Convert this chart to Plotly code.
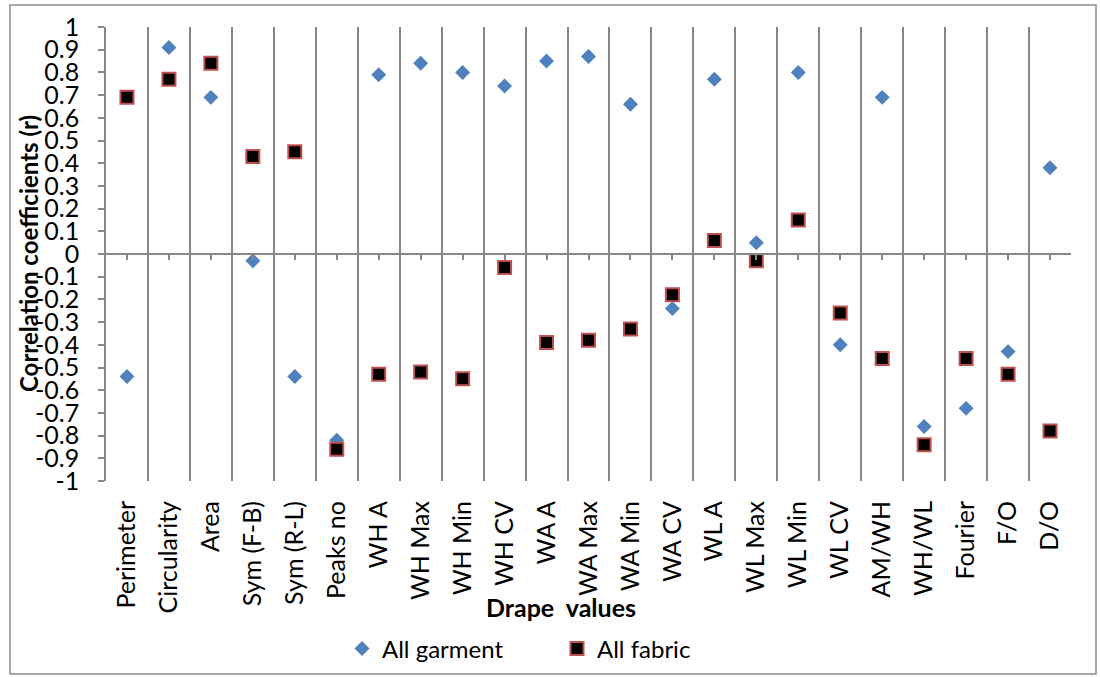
import plotly.graph_objects as go

categories = ["Perimeter", "Circularity", "Area", "Sym (F-B)", "Sym (R-L)", "Peaks no",
              "WH A", "WH Max", "WH Min", "WH CV", "WA A", "WA Max", "WA Min", "WA CV",
              "WL A", "WL Max", "WL Min", "WL CV", "AM/WH", "WH/WL", "Fourier", "F/O", "D/O"]

all_garment = [-0.54, 0.91, 0.69, -0.03, -0.54, -0.82, 0.79, 0.84, 0.80, 0.74, 0.85, 0.87,
               0.66, -0.24, 0.77, 0.05, 0.80, -0.40, 0.69, -0.76, -0.68, -0.43, 0.38]

all_fabric = [0.69, 0.77, 0.84, 0.43, 0.45, -0.86, -0.53, -0.52, -0.55, -0.06, -0.39, -0.38,
              -0.33, -0.18, 0.06, -0.03, 0.15, -0.26, -0.46, -0.84, -0.46, -0.53, -0.78]

y_tick_vals = [1, 0.9, 0.8, 0.7, 0.6, 0.5, 0.4, 0.3, 0.2, 0.1, 0, -0.1, -0.2, -0.3, -0.4,
               -0.5, -0.6, -0.7, -0.8, -0.9, -1]
y_tick_text = ["1", "0.9", "0.8", "0.7", "0.6", "0.5", "0.4", "0.3", "0.2", "0.1", "0",
               "-0.1", "-0.2", "-0.3", "-0.4", "-0.5", "-0.6", "-0.7", "-0.8", "-0.9", "-1"]

FONT = "Lato"
GRID = "#878787"

fig = go.Figure()
fig.add_trace(go.Scatter(
    x=categories, y=all_garment, mode="markers", name="All garment",
    marker=dict(symbol="diamond", size=11.5, color="#4F81BD", line=dict(width=0)),
))
fig.add_trace(go.Scatter(
    x=categories, y=all_fabric, mode="markers", name="All fabric",
    marker=dict(symbol="square", size=13, color="#000000", line=dict(width=2, color="#C0504D")),
))

L, R, T, B = 106, 29, 27, 196
W, H = 1100, 677
pw, ph = W - L - R, H - T - B

def px_x(p):
    return (p - L) / pw

def px_y(p):
    return (H - B - p) / ph

fig.update_layout(
    width=W, height=H,
    margin=dict(l=L, r=R, t=T, b=B, autoexpand=False),
    paper_bgcolor="white", plot_bgcolor="white",
    font=dict(family=FONT, size=25, color="#000000"),
    showlegend=True,
    legend=dict(orientation="h", x=px_x(342), xanchor="left", y=px_y(649), yanchor="middle",
                font=dict(family=FONT, size=24), entrywidth=170, entrywidthmode="pixels",
                bgcolor="rgba(0,0,0,0)"),
    xaxis=dict(
        type="category", categoryorder="array", categoryarray=categories,
        range=[-0.5, len(categories) - 0.5],
        tickson="boundaries", showgrid=True, gridcolor=GRID, gridwidth=1.5,
        ticks="", showline=False, zeroline=False, tickangle=-90,
        tickfont=dict(family=FONT, size=25), ticklabelstandoff=14,
    ),
    xaxis2=dict(
        overlaying="x", anchor="free", position=0.5, type="linear",
        range=[-0.5, len(categories) - 0.5], tickmode="array",
        tickvals=list(range(len(categories))), showticklabels=False,
        ticks="outside", ticklen=5, tickcolor=GRID, tickwidth=1.5,
        showline=True, linecolor=GRID, linewidth=1.5, showgrid=False, zeroline=False,
    ),
    yaxis=dict(
        range=[-1, 1], tickmode="array", tickvals=y_tick_vals, ticktext=y_tick_text,
        ticks="outside", ticklen=6, tickcolor=GRID, tickwidth=1.5,
        showline=True, linecolor=GRID, linewidth=1.5, showgrid=False, zeroline=False,
        tickfont=dict(family=FONT, size=25), ticklabelstandoff=14,
    ),
    shapes=[dict(type="rect", xref="paper", yref="paper",
                 x0=px_x(10), x1=px_x(1096), y0=px_y(674), y1=px_y(5),
                 line=dict(color="#8c8c8c", width=1.5), fillcolor="rgba(0,0,0,0)", layer="below")],
    annotations=[
        dict(text="<b>Correlation coefficients (r)</b>", xref="paper", yref="paper",
             x=px_x(28), y=0.5, textangle=-90, showarrow=False,
             font=dict(family=FONT, size=24), xanchor="center", yanchor="middle"),
        dict(text="<b>Drape  values</b>", xref="paper", yref="paper",
             x=px_x(561), y=px_y(607), showarrow=False,
             font=dict(family=FONT, size=25), xanchor="center", yanchor="middle"),
    ],
)
# dummy association so xaxis2 renders
fig.add_trace(go.Scatter(x=[], y=[], xaxis="x2", showlegend=False, hoverinfo="skip"))

fig.write_html("out.html", config={"displayModeBar": False},
               post_script="document.body.style.margin='0';")
